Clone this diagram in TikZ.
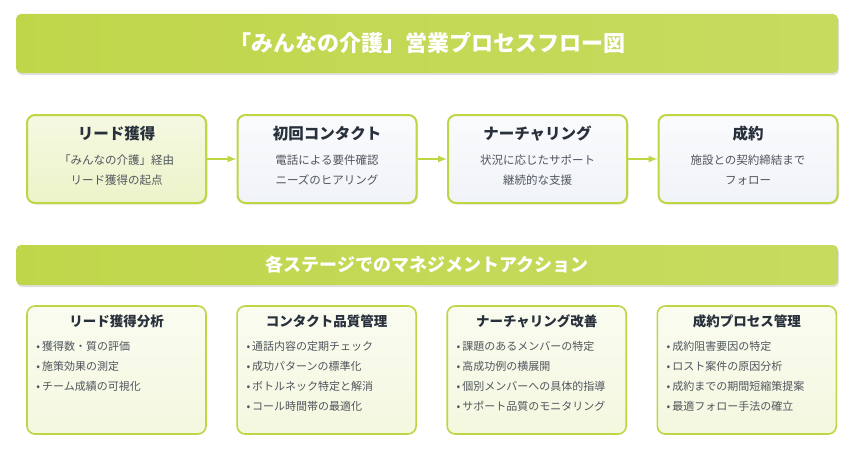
\documentclass[tikz,border=0pt]{standalone}
\usepackage{fontspec}
\setmainfont{Noto Sans CJK JP}
\usetikzlibrary{shapes,arrows,positioning,fit,backgrounds,shadows}
\definecolor{leaf}{RGB}{192,214,74}
\definecolor{leaflight}{RGB}{199,219,96}
\definecolor{leafline}{RGB}{190,213,68}
\definecolor{paper}{RGB}{250,251,253}
\definecolor{papershade}{RGB}{240,243,247}
\definecolor{ink}{RGB}{40,48,60}
\definecolor{subink}{RGB}{80,86,94}

\begin{document}
\begin{tikzpicture}[
	x=1pt, y=1pt,
        node distance=29.5pt,
        banner/.style={
            rectangle,
            rounded corners=5pt,
            left color=leaf,
            right color=leaflight,
            text=white,
            minimum width=822pt,
            drop shadow={shadow xshift=1pt, shadow yshift=-2pt, opacity=0.25}
        },
        stage/.style={
            rectangle,
            rounded corners=8pt,
            draw=leafline,
            line width=2pt,
            minimum width=179pt,
            minimum height=88pt,
            top color=paper,
            bottom color=papershade,
            drop shadow={shadow xshift=1.5pt, shadow yshift=-1.5pt, opacity=0.18}
        },
        startstage/.style={
            stage,
            top color=leaf!16,
            bottom color=leaf!30
        },
        stagehead/.style={
            font=\fontsize{15.5}{18}\selectfont\bfseries,
            text=ink
        },
        stagebody/.style={
            align=center,
            font=\fontsize{11.5}{20}\selectfont,
            text=subink
        },
        action/.style={
            rectangle,
            rounded corners=8pt,
            draw=leafline,
            line width=1.6pt,
            minimum width=179pt,
            minimum height=128pt,
            top color=leaf!8,
            bottom color=leaf!18
        },
        actionhead/.style={
            font=\fontsize{13.5}{16}\selectfont\bfseries,
            text=ink
        },
        actionlist/.style={
            anchor=north west,
            align=left,
            inner sep=0pt,
            font=\fontsize{11}{20}\selectfont,
            text=subink
        },
        arrow/.style={
            ->,
            >=latex,
            draw=leafline,
            line width=2pt
        }
    ]
    \useasboundingbox (0,0) rectangle (861,-452);
    % Title banner
    \node[banner, minimum height=59pt, font=\fontsize{22}{24}\selectfont\bfseries]
        (title) at (427,-43.5) {「みんなの介護」営業プロセスフロー図};
    % Sales stages
    \node[startstage] (lead) at (116.5,-159) {};
    \node[stage, right=of lead] (contact) {};
    \node[stage, right=of contact] (nurture) {};
    \node[stage, right=of nurture] (deal) {};
    \node[stagehead] (lead_t) at ([yshift=-20pt]lead.north) {リード獲得};
    \node[stagehead] (contact_t) at ([yshift=-20pt]contact.north) {初回コンタクト};
    \node[stagehead] (nurture_t) at ([yshift=-20pt]nurture.north) {ナーチャリング};
    \node[stagehead] (deal_t) at ([yshift=-20pt]deal.north) {成約};
    \node[stagebody] (lead_b) at ([yshift=-11pt]lead.center) {「みんなの介護」経由\\リード獲得の起点};
    \node[stagebody] (contact_b) at ([yshift=-11pt]contact.center) {電話による要件確認\\ニーズのヒアリング};
    \node[stagebody] (nurture_b) at ([yshift=-11pt]nurture.center) {状況に応じたサポート\\継続的な支援};
    \node[stagebody] (deal_b) at ([yshift=-11pt]deal.center) {施設との契約締結まで\\フォロー};
    % Stage flow
    \draw[arrow] (lead) -- (contact);
    \draw[arrow] (contact) -- (nurture);
    \draw[arrow] (nurture) -- (deal);
    % Management banner
    \node[banner, minimum height=40pt, font=\fontsize{18}{20}\selectfont\bfseries]
        (mgmt) at (427,-265) {各ステージでのマネジメントアクション};
    % Management actions
    \node[action] (lead_a) at (116.5,-370) {};
    \node[action, right=of lead_a] (contact_a) {};
    \node[action, right=of contact_a] (nurture_a) {};
    \node[action, right=of nurture_a] (deal_a) {};
    \node[actionhead] (lead_ah) at ([yshift=-16pt]lead_a.north) {リード獲得分析};
    \node[actionhead] (contact_ah) at ([yshift=-16pt]contact_a.north) {コンタクト品質管理};
    \node[actionhead] (nurture_ah) at ([yshift=-16pt]nurture_a.north) {ナーチャリング改善};
    \node[actionhead] (deal_ah) at ([yshift=-16pt]deal_a.north) {成約プロセス管理};
    \node[actionlist] (lead_al) at ([xshift=10pt,yshift=-36pt]lead_a.north west)
        {•\hspace{2pt}獲得数・質の評価\\•\hspace{2pt}施策効果の測定\\•\hspace{2pt}チーム成績の可視化};
    \node[actionlist] (contact_al) at ([xshift=10pt,yshift=-36pt]contact_a.north west)
        {•\hspace{2pt}通話内容の定期チェック\\•\hspace{2pt}成功パターンの標準化\\•\hspace{2pt}ボトルネック特定と解消\\•\hspace{2pt}コール時間帯の最適化};
    \node[actionlist] (nurture_al) at ([xshift=10pt,yshift=-36pt]nurture_a.north west)
        {•\hspace{2pt}課題のあるメンバーの特定\\•\hspace{2pt}高成功例の横展開\\•\hspace{2pt}個別メンバーへの具体的指導\\•\hspace{2pt}サポート品質のモニタリング};
    \node[actionlist] (deal_al) at ([xshift=10pt,yshift=-36pt]deal_a.north west)
        {•\hspace{2pt}成約阻害要因の特定\\•\hspace{2pt}ロスト案件の原因分析\\•\hspace{2pt}成約までの期間短縮策提案\\•\hspace{2pt}最適フォロー手法の確立};
\end{tikzpicture}
\end{document}
